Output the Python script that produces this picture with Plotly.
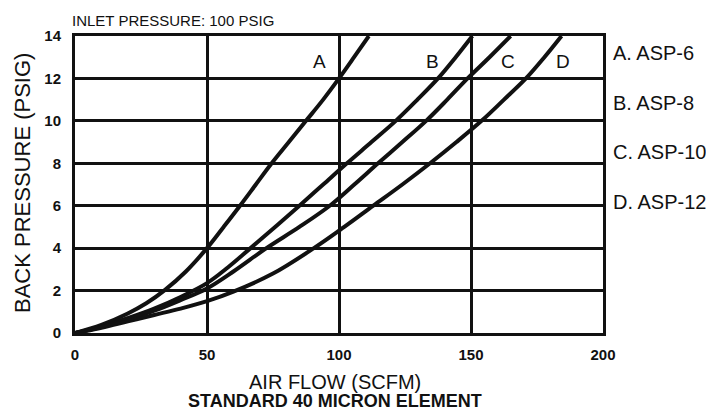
import plotly.graph_objects as go

# Air flow (SCFM) vs back pressure (PSIG) for each model
a_flow = [0, 10, 20, 27, 34, 42, 50, 56.3, 62.5, 68.5, 74.5, 81, 87.5, 94, 100, 105.7, 111.3]
a_press = [0, 0.38, 0.92, 1.4, 2.02, 2.9, 4.0, 5.0, 6.0, 7.0, 8.0, 9.0, 10.0, 11.0, 12.0, 13.0, 14.0]

b_flow = [0, 10, 20, 30, 40, 50, 58, 66.5, 75.8, 85, 94, 103, 112.3, 121.5, 129.7, 137.5, 144.2, 150.5]
b_press = [0, 0.3, 0.7, 1.15, 1.7, 2.35, 3.1, 4.0, 5.0, 6.0, 7.0, 8.0, 9.0, 10.0, 11.0, 12.0, 13.0, 14.0]

c_flow = [0, 10, 20, 30, 40, 50, 60, 72.5, 85, 96.5, 105.8, 114.8, 124, 133, 141, 148.7, 157, 165]
c_press = [0, 0.28, 0.65, 1.05, 1.55, 2.1, 2.9, 4.0, 5.0, 6.0, 7.0, 8.0, 9.0, 10.0, 11.0, 12.0, 13.0, 14.0]

d_flow = [0, 10, 20, 30, 40, 50, 60, 75, 90.5, 102, 113, 124, 134.5, 144.5, 154, 162.5, 170.8, 177.8, 184.3]
d_press = [0, 0.25, 0.55, 0.85, 1.15, 1.5, 1.95, 2.8, 4.0, 5.0, 6.0, 7.0, 8.0, 9.0, 10.0, 11.0, 12.0, 13.0, 14.0]

curve_letters = ["A", "B", "C", "D"]
curve_label_x = [92.8, 135.6, 164, 185]
curve_label_y = [12.8, 12.8, 12.8, 12.8]
legend_texts = ["A. ASP-6", "B. ASP-8", "C. ASP-10", "D. ASP-12"]

x_ticks = [0, 50, 100, 150, 200]
y_ticks = [0, 2, 4, 6, 8, 10, 12, 14]

FONT = "Liberation Sans, Arial, sans-serif"

# page body adds an 8px offset; lay out in window pixels
OFF = 8
PL, PR, PT, PB = 75, 603, 36, 333  # plot area in window pixels
PW, PH = PR - PL, PB - PT


def px(xw):
    return (xw - PL) / PW


def py(yw):
    return (PB - yw) / PH


fig = go.Figure()
for xs, ys, name in zip([a_flow, b_flow, c_flow, d_flow],
                        [a_press, b_press, c_press, d_press], curve_letters):
    fig.add_trace(go.Scatter(x=xs, y=ys, mode="lines", name=name,
                             line=dict(color="#111111", width=4, shape="spline", smoothing=1.0),
                             showlegend=False, hoverinfo="x+y"))

for letter, lx, ly in zip(curve_letters, curve_label_x, curve_label_y):
    fig.add_annotation(x=lx, y=ly, text=letter, showarrow=False,
                       font=dict(size=19, color="#111111", family=FONT))

legend_y_px = [53, 103, 152, 202]
for txt, yw in zip(legend_texts, legend_y_px):
    fig.add_annotation(xref="paper", yref="paper", x=px(611), y=py(yw),
                       xanchor="left", yanchor="middle", text=txt, showarrow=False,
                       font=dict(size=20, color="#111111", family=FONT))

fig.add_annotation(xref="paper", yref="paper", x=px(70), y=py(20),
                   xanchor="left", yanchor="middle", text="INLET PRESSURE: 100 PSIG",
                   showarrow=False, font=dict(size=15, color="#111111", family=FONT))
fig.add_annotation(xref="paper", yref="paper", x=px(335), y=py(382),
                   xanchor="center", yanchor="middle", text="AIR FLOW (SCFM)",
                   showarrow=False, font=dict(size=20, color="#111111", family=FONT))
fig.add_annotation(xref="paper", yref="paper", x=px(335), y=py(401),
                   xanchor="center", yanchor="middle", text="<b>STANDARD 40 MICRON ELEMENT</b>",
                   showarrow=False, font=dict(size=18, color="#111111", family=FONT))
fig.add_annotation(xref="paper", yref="paper", x=px(22), y=py(183),
                   xanchor="center", yanchor="middle", text="BACK PRESSURE (PSIG)", textangle=-90,
                   showarrow=False, font=dict(size=22, color="#111111", family=FONT))

axis_common = dict(showgrid=True, gridcolor="#111111", gridwidth=2.5,
                   showline=True, linecolor="#111111", linewidth=3, mirror=True,
                   zeroline=False, ticks="", fixedrange=True,
                   tickfont=dict(size=15, color="#111111", family=FONT, weight="bold"))

fig.update_xaxes(range=[0, 200], tickvals=x_ticks, ticktext=[str(v) for v in x_ticks],
                 ticklabelstandoff=6, **axis_common)
fig.update_yaxes(range=[0, 14], tickvals=y_ticks, ticktext=[str(v) for v in y_ticks],
                 ticklabelstandoff=8, **axis_common)

fig.update_layout(width=714 - OFF, height=412 - OFF,
                  margin=dict(l=PL - OFF, r=714 - PR, t=PT - OFF, b=412 - PB),
                  paper_bgcolor="white", plot_bgcolor="white",
                  font=dict(family=FONT, color="#111111"))

fig.write_html("out.html")
